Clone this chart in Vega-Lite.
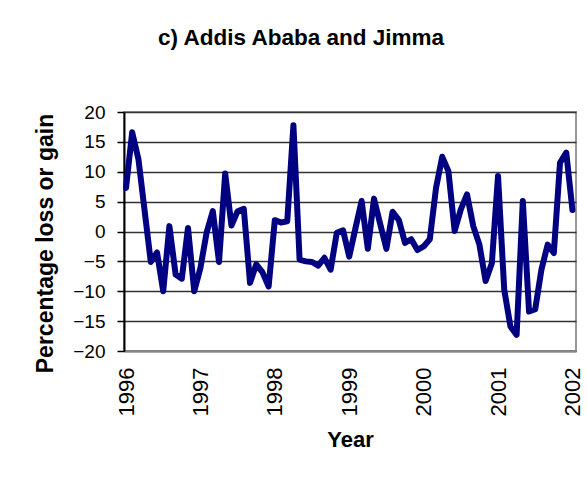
{
  "$schema": "https://vega.github.io/schema/vega-lite/v6.json",
  "width": 452,
  "height": 239,
  "autosize": {"type": "none"},
  "padding": {"left": 124, "top": 112, "right": 11, "bottom": 136},
  "background": "white",
  "title": {"text": "c) Addis Ababa and Jimma", "fontSize": 22.5, "font": "Liberation Sans", "fontWeight": "bold", "color": "black", "anchor": "middle", "dx": -49, "offset": 54},
  "data": {"values": [
    {"year": 1996.000, "pct": 7.3},
    {"year": 1996.083, "pct": 16.6},
    {"year": 1996.167, "pct": 12.1},
    {"year": 1996.250, "pct": 3.5},
    {"year": 1996.333, "pct": -5.1},
    {"year": 1996.417, "pct": -3.5},
    {"year": 1996.500, "pct": -10.0},
    {"year": 1996.583, "pct": 0.9},
    {"year": 1996.667, "pct": -7.2},
    {"year": 1996.750, "pct": -7.9},
    {"year": 1996.833, "pct": 0.6},
    {"year": 1996.917, "pct": -10.0},
    {"year": 1997.000, "pct": -6.1},
    {"year": 1997.083, "pct": -0.2},
    {"year": 1997.167, "pct": 3.4},
    {"year": 1997.250, "pct": -5.1},
    {"year": 1997.333, "pct": 9.7},
    {"year": 1997.417, "pct": 1.0},
    {"year": 1997.500, "pct": 3.4},
    {"year": 1997.583, "pct": 3.8},
    {"year": 1997.667, "pct": -8.6},
    {"year": 1997.750, "pct": -5.5},
    {"year": 1997.833, "pct": -6.8},
    {"year": 1997.917, "pct": -9.2},
    {"year": 1998.000, "pct": 1.9},
    {"year": 1998.083, "pct": 1.5},
    {"year": 1998.167, "pct": 1.7},
    {"year": 1998.250, "pct": 17.8},
    {"year": 1998.333, "pct": -4.7},
    {"year": 1998.417, "pct": -5.0},
    {"year": 1998.500, "pct": -5.1},
    {"year": 1998.583, "pct": -5.7},
    {"year": 1998.667, "pct": -4.4},
    {"year": 1998.750, "pct": -6.4},
    {"year": 1998.833, "pct": -0.2},
    {"year": 1998.917, "pct": 0.2},
    {"year": 1999.000, "pct": -4.2},
    {"year": 1999.083, "pct": 0.5},
    {"year": 1999.167, "pct": 5.1},
    {"year": 1999.250, "pct": -2.9},
    {"year": 1999.333, "pct": 5.5},
    {"year": 1999.417, "pct": 1.2},
    {"year": 1999.500, "pct": -2.9},
    {"year": 1999.583, "pct": 3.3},
    {"year": 1999.667, "pct": 1.9},
    {"year": 1999.750, "pct": -1.9},
    {"year": 1999.833, "pct": -1.3},
    {"year": 1999.917, "pct": -3.1},
    {"year": 2000.000, "pct": -2.5},
    {"year": 2000.083, "pct": -1.3},
    {"year": 2000.167, "pct": 7.3},
    {"year": 2000.250, "pct": 12.5},
    {"year": 2000.333, "pct": 10.1},
    {"year": 2000.417, "pct": 0.1},
    {"year": 2000.500, "pct": 3.7},
    {"year": 2000.583, "pct": 6.2},
    {"year": 2000.667, "pct": 0.9},
    {"year": 2000.750, "pct": -2.2},
    {"year": 2000.833, "pct": -8.3},
    {"year": 2000.917, "pct": -5.3},
    {"year": 2001.000, "pct": 9.3},
    {"year": 2001.083, "pct": -9.7},
    {"year": 2001.167, "pct": -15.9},
    {"year": 2001.250, "pct": -17.3},
    {"year": 2001.333, "pct": 5.1},
    {"year": 2001.417, "pct": -13.4},
    {"year": 2001.500, "pct": -13.0},
    {"year": 2001.583, "pct": -6.4},
    {"year": 2001.667, "pct": -2.2},
    {"year": 2001.750, "pct": -3.6},
    {"year": 2001.833, "pct": 11.5},
    {"year": 2001.917, "pct": 13.2},
    {"year": 2002.000, "pct": 3.6}
  ]},
  "mark": {"type": "line", "color": "#000080", "strokeWidth": 6, "strokeJoin": "round", "strokeCap": "round"},
  "encoding": {
    "x": {
      "field": "year", "type": "quantitative",
      "scale": {"domain": [1995.973, 2002.048], "nice": false, "zero": false},
      "axis": {
        "values": [1996, 1997, 1998, 1999, 2000, 2001, 2002],
        "format": "d", "labelAngle": -90, "labelFontSize": 22, "labelColor": "black",
        "labelFlush": false, "labelPadding": 16, "ticks": false, "tickSize": 0,
        "grid": false, "domainColor": "#888", "domainWidth": 2,
        "title": "Year", "titleFontSize": 22, "titleColor": "black", "titleFontWeight": "bold", "titlePadding": 14
      }
    },
    "y": {
      "field": "pct", "type": "quantitative",
      "scale": {"domain": [-20, 20], "nice": false},
      "axis": {
        "values": [-20, -15, -10, -5, 0, 5, 10, 15, 20],
        "labelFontSize": 19, "labelColor": "black", "labelPadding": 12,
        "tickSize": 7, "tickColor": "black", "tickWidth": 1.5,
        "domainColor": "black", "domainWidth": 2,
        "grid": true, "gridColor": "#333", "gridWidth": 1.5,
        "title": "Percentage loss or gain", "titleFontSize": 23, "titleColor": "black", "titleFontWeight": "bold", "titlePadding": 15.5, "titleY": 131
      }
    }
  },
  "config": {
    "font": "Liberation Sans",
    "view": {"stroke": "#999", "strokeWidth": 2}
  }
}
